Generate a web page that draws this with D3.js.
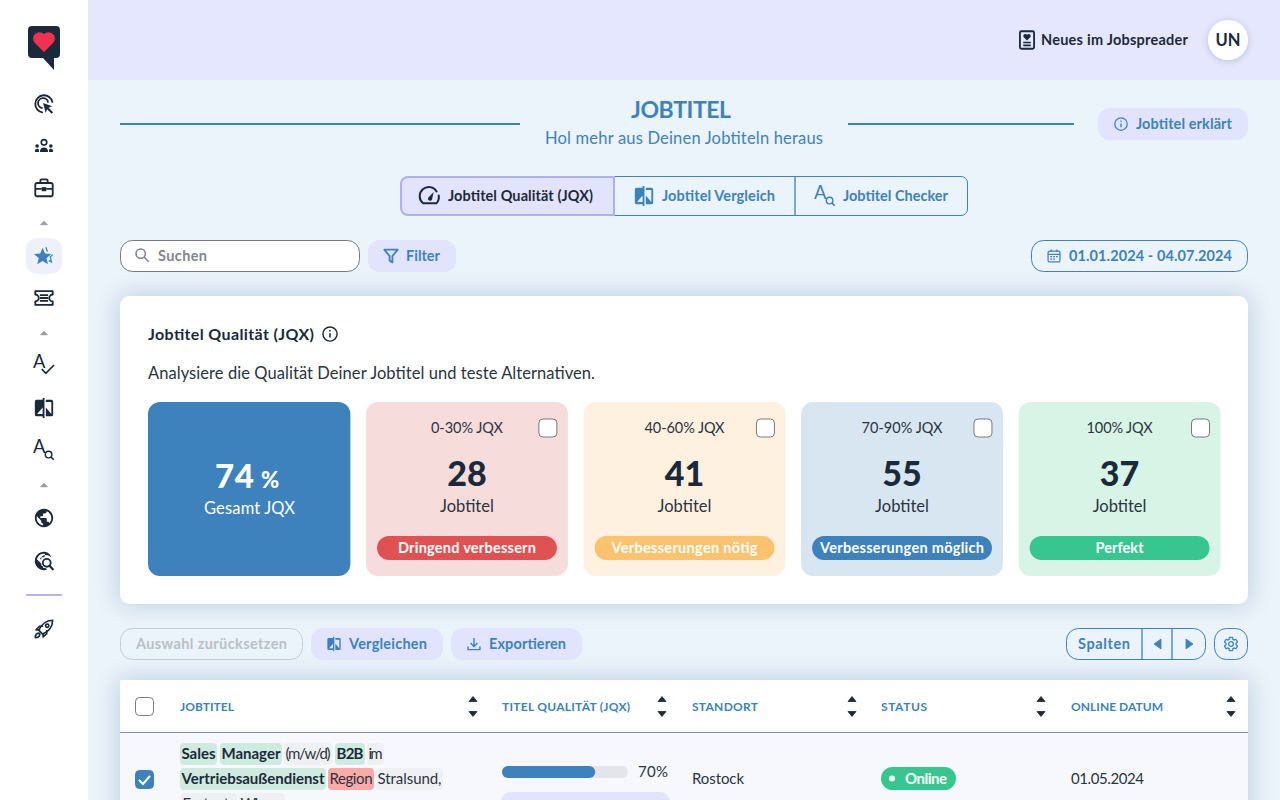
<!DOCTYPE html>
<html lang="de"><head><meta charset="utf-8"><title>Jobtitel</title>
<script src="https://cdn.jsdelivr.net/npm/d3@7"></script>
<style>html,body{margin:0;padding:0;overflow:hidden;background:#ebf3fb}svg{display:block}text{font-family:Lato,"Open Sans",sans-serif}</style>
</head><body><div id="app"></div>
<script>
// ---- data ----
const scoreRanges = ["0-30% JQX","40-60% JQX","70-90% JQX","100% JQX"];
const jobCounts = [28,41,55,37];
const badgeLabels = ["Dringend verbessern","Verbesserungen nötig","Verbesserungen möglich","Perfekt"];
const overallScore = 74;
const tableColumns = ["JOBTITEL","TITEL QUALITÄT (JQX)","STANDORT","STATUS","ONLINE DATUM"];
const titleWords = ["Sales","Manager","(m/w/d)","B2B","im","Vertriebsaußendienst","Region","Stralsund,","Festnetz","Wismar"];
const titleKinds = ["good","good","neutral","good","neutral","good","bad","neutral","neutral","neutral"];
const rowQualityBar = 74, rowQualityLabel = "70%";
const rowLocation = "Rostock", rowStatus = "Online", rowDate = "01.05.2024";
const tabLabels = ["Jobtitel Qualität (JQX)","Jobtitel Vergleich","Jobtitel Checker"];
const dateRange = "01.01.2024 - 04.07.2024";

const W=1280,H=800, BLUE="#3d82bd", DARK="#1b2a3a", LILAC="#e2e4fd", INK="#2b3440";
const svg=d3.select("#app").append("svg").attr("width",W).attr("height",H).attr("viewBox",[0,0,W,H]);
const defs=svg.append("defs");
function shadow(id,dy,blur,op){const f=defs.append("filter").attr("id",id).attr("x","-20%").attr("y","-30%").attr("width","140%").attr("height","160%");
  f.append("feDropShadow").attr("dx",0).attr("dy",dy).attr("stdDeviation",blur).attr("flood-color","#24364d").attr("flood-opacity",op);}
shadow("cardS",0,12,.22); shadow("avaS",1,3,.22);
defs.append("filter").attr("id","tblS").attr("x","-10%").attr("y","-30%").attr("width","120%").attr("height","160%")
  .append("feDropShadow").attr("dx",0).attr("dy",0).attr("stdDeviation",12).attr("flood-color","#24364d").attr("flood-opacity",.22);
defs.append("clipPath").attr("id","pageClip").append("rect").attr("width",W).attr("height",H);

const rect=(p,x0,y0,x1,y1,o={})=>p.append("rect").attr("x",x0).attr("y",y0).attr("width",x1-x0).attr("height",y1-y0)
  .attr("rx",o.r||0).attr("fill",o.fill||"none").attr("stroke",o.stroke||null).attr("stroke-width",o.sw||null).attr("filter",o.filter||null);
// text; when x1 is given the run is fitted to the span x..x1
function T(p,x,y,s,o={}){const t=p.append("text").attr("x",x).attr("y",y).text(s).attr("font-size",o.size||14)
  .attr("font-weight",o.weight||400).attr("fill",o.fill||INK).attr("text-anchor",o.anchor||"start");
  if(o.x1!=null)t.attr("textLength",o.x1-x).attr("lengthAdjust","spacing");
  if(o.fit)t.attr("textLength",o.fit).attr("lengthAdjust","spacing");return t;}

const ICONS={
 compare:'<path fill="currentColor" d="M10.500 3H4a2 2 0 0 0-2 2v14a2 2 0 0 0 2 2h6.500v2h2V1h-2zM10.500 18.500H4.500l6-7zM20 3h-6v2.500h6v13l-6-7V21h6a2 2 0 0 0 2-2V5a2 2 0 0 0-2-2z"/>',
 globe:'<path fill="currentColor" d="M12 2C6.48 2 2 6.48 2 12s4.48 10 10 10 10-4.48 10-10S17.52 2 12 2zm-1 17.93c-3.95-.49-7-3.85-7-7.93 0-.62.08-1.21.21-1.79L9 15v1c0 1.1.9 2 2 2v1.93zm6.9-2.54c-.26-.81-1-1.39-1.9-1.39h-1v-3c0-.55-.45-1-1-1H8v-2h2c.55 0 1-.45 1-1V7h2c1.1 0 2-.9 2-2v-.41c2.93 1.19 5 4.06 5 7.41 0 2.08-.8 3.97-2.1 5.39z"/>',
 globeSearch:'<path fill="currentColor" d="M12 2C6.5 2 2 6.5 2 12s4.500 10 10 10c1.200 0 2.300-.2 3.300-.6l-1.500-1.900c-.6.1-1.200.2-1.800.2h-1v-2c-1.100 0-2-.9-2-2v-1L4.200 10.200C4.100 10.800 4 11.400 4 12c0-4 3-7.400 7-8h2v2c0 1.100-.9 2-2 2H9v2H7.500c1-2.500 3.500-4.500 6.500-4.500 2.500 0 4.500 1 6 2.800C18.700 4.300 15.600 2 12 2z"/><circle cx="15" cy="14" r="4.300" fill="none" stroke="currentColor" stroke-width="2"/><path d="M18 17.200l3.600 3.800" stroke="currentColor" stroke-width="2.400" stroke-linecap="round"/>',
 target:'<path d="M21.400 10.500A9.500 9.500 0 1 0 10.800 21.400" fill="none" stroke="currentColor" stroke-width="2"/><path d="M16.500 10.500A5.500 5.500 0 1 0 10.500 16.500" fill="none" stroke="currentColor" stroke-width="2"/><path fill="currentColor" d="M11 11l10 3.400-4 1.700 5 5-1.600 1.600-5-5-1.600 4z"/>',
 team:'<g fill="currentColor"><circle cx="12" cy="8" r="3" fill="none" stroke="currentColor" stroke-width="1.800"/><path d="M7.500 18.500c0-3.400 2-5 4.500-5s4.500 1.600 4.500 5z"/><circle cx="4.500" cy="12" r="2"/><circle cx="19.500" cy="12" r="2"/><path d="M2 18.500c0-2.200 1-3.400 2.500-3.400s2 .6 2 1.500v1.900zM22 18.500c0-2.200-1-3.400-2.500-3.400s-2 .6-2 1.500v1.900z"/></g>',
 case:'<g fill="none" stroke="currentColor" stroke-width="2"><rect x="2.500" y="6.500" width="19" height="14.500" rx="2"/><path d="M8 6.500V4a1.500 1.500 0 0 1 1.500-1.500h5A1.500 1.500 0 0 1 16 4v2.500M2.500 13H9.500M14.500 13h7"/><rect x="9.500" y="11" width="5" height="4.500" fill="currentColor" stroke="none"/></g>',
 star:'<path fill="currentColor" d="M10.500 3l2.600 6.400 6.900.500-5.300 4.500 1.700 6.700-5.900-3.700-5.900 3.700 1.700-6.700L1 9.900l6.900-.500z"/><path d="M14 2.500l1.800 4.500M21.500 10.500l-2.600 2.500 1.200 5.500-3-1.700" fill="none" stroke="currentColor" stroke-width="1.400"/>',
 ticket:'<g fill="none" stroke="currentColor" stroke-width="2" stroke-linejoin="round"><path d="M2.500 4.500h19v3.700a3.800 3.800 0 0 0 0 7.600v3.700h-19v-3.700a3.800 3.800 0 0 0 0-7.600z"/><path d="M7.500 8.800h9M7.500 12h9M7.500 15.200h9" /></g>',
 aCheck:'<text x="0" y="15" font-size="20" font-family="Lato" font-weight="400" fill="currentColor">A</text><path d="M9.500 16.500l4.500 4.500L23 12" fill="none" stroke="currentColor" stroke-width="1.800"/>',
 aSearch:'<text x="0" y="15" font-size="20" font-family="Lato" font-weight="400" fill="currentColor">A</text><circle cx="17" cy="17" r="3.600" fill="none" stroke="currentColor" stroke-width="1.600"/><path d="M19.600 19.600l3 3" stroke="currentColor" stroke-width="1.800"/>',
 rocket:'<g fill="none" stroke="currentColor" stroke-width="1.800" stroke-linejoin="round"><path d="M6.500 13.500C9 7 14 2.800 21.500 2.500 21.200 10 17 15 10.500 17.500z"/><circle cx="15.500" cy="8.500" r="1.800"/><path d="M7 13H3.300l3.700-4h4M11 17v3.700l4-3.700v-4"/><path d="M6.500 16.500c-2.500.3-4 2-4 5 3 0 4.700-1.500 5-4z"/></g>',
 gauge:'<g fill="none" stroke="currentColor" stroke-width="2.200" stroke-linecap="round"><path d="M4.500 20a10 10 0 1 1 14.800-13M21.500 11.500a10 10 0 0 1-2.500 8.500H4.500"/></g><path d="M10 13.800l6-6.300-1.800 8.400a2.200 2.200 0 1 1-4.200-2.100z" fill="currentColor"/>',
 news:'<rect x="3.500" y="1.500" width="17" height="21" rx="1.800" fill="none" stroke="currentColor" stroke-width="2.200"/><path fill="currentColor" d="M12 12.500L7.800 8.300a2.500 2.500 0 0 1 4.200-2.600 2.500 2.500 0 0 1 4.200 2.600z"/><path d="M7.500 15h9M7.500 18.500h9" stroke="currentColor" stroke-width="2"/>',
 info:'<circle cx="12" cy="12" r="10" fill="none" stroke="currentColor" stroke-width="2"/><circle cx="12" cy="7.500" r="1.300" fill="currentColor"/><path d="M12 11v6" stroke="currentColor" stroke-width="2.200"/>',
 search:'<circle cx="10" cy="10" r="7" fill="none" stroke="currentColor" stroke-width="2.200"/><path d="M15 15l7 7" stroke="currentColor" stroke-width="2.200"/>',
 funnel:'<path d="M2.500 3h19l-7.500 9v9l-4-2.500V12z" fill="none" stroke="currentColor" stroke-width="2.600" stroke-linejoin="round"/>',
 calendar:'<rect x="2.500" y="4" width="19" height="17.500" rx="2.500" fill="none" stroke="currentColor" stroke-width="2"/><path d="M2.500 9.500h19M7.500 1.500v4M16.500 1.500v4" stroke="currentColor" stroke-width="2"/><path d="M6 13h3M10.500 13h3M15 13h3M6 17h3M10.500 17h3" stroke="currentColor" stroke-width="1.800"/>',
 download:'<path d="M12 2.500v13M6.500 10.500l5.500 5.500 5.500-5.500M2.500 16v5h19v-5" fill="none" stroke="currentColor" stroke-width="2.300"/>',
 gear:'<path fill="none" stroke="currentColor" stroke-width="1.900" d="M19.430 12.980c.04-.32.07-.64.07-.98s-.03-.66-.07-.98l2.110-1.650c.19-.15.24-.42.12-.64l-2-3.460c-.12-.22-.39-.3-.61-.22l-2.490 1c-.52-.4-1.080-.73-1.690-.98l-.38-2.650C14.460 2.180 14.250 2 14 2h-4c-.25 0-.46.18-.49.42l-.38 2.650c-.61.25-1.170.59-1.690.98l-2.490-1c-.23-.09-.49 0-.61.22l-2 3.460c-.13.22-.07.49.12.64l2.110 1.650c-.04.32-.07.65-.07.98s.03.66.07.98l-2.110 1.650c-.19.15-.24.42-.12.64l2 3.460c.12.22.39.3.61.22l2.490-1c.52.4 1.080.73 1.690.98l.38 2.650c.03.24.24.42.49.42h4c.25 0 .46-.18.49-.42l.38-2.650c.61-.25 1.170-.59 1.690-.98l2.490 1c.23.09.49 0 .61-.22l2-3.460c.12-.22.07-.49-.12-.64l-2.110-1.650z"/><circle cx="12" cy="12" r="3.500" fill="none" stroke="currentColor" stroke-width="1.900"/>'
};
const icon=(p,name,cx,cy,size,color)=>p.append("g").attr("transform",`translate(${cx-size/2},${cy-size/2}) scale(${size/24})`)
  .style("color",color).html(ICONS[name]);
const tri=(p,cx,cy,w,h,dir,fill)=>{const d=d3.path();
  if(dir==="up"){d.moveTo(cx-w/2,cy+h/2);d.lineTo(cx+w/2,cy+h/2);d.lineTo(cx,cy-h/2);}
  if(dir==="down"){d.moveTo(cx-w/2,cy-h/2);d.lineTo(cx+w/2,cy-h/2);d.lineTo(cx,cy+h/2);}
  if(dir==="left"){d.moveTo(cx+h/2,cy-w/2);d.lineTo(cx+h/2,cy+w/2);d.lineTo(cx-h/2,cy);}
  if(dir==="right"){d.moveTo(cx-h/2,cy-w/2);d.lineTo(cx-h/2,cy+w/2);d.lineTo(cx+h/2,cy);}
  d.closePath();return p.append("path").attr("d",d.toString()).attr("fill",fill).attr("stroke",fill).attr("stroke-width",.8).attr("stroke-linejoin","round");};
const checkbox=(p,x,y,on)=>{rect(p,x,y,x+18,y+18,{r:4,fill:on?BLUE:"#fff",stroke:on?BLUE:"#777a80",sw:1});
  if(on)p.append("path").attr("d",`M${x+3.5} ${y+9.5}l4 4 7-8`).attr("fill","none").attr("stroke","#fff").attr("stroke-width",2);};

// ---- page background ----
rect(svg,0,0,W,H,{fill:"#ebf3fb"});
rect(svg,88,0,W,80,{fill:"#e5e7fe"});

// ---- main card ----
rect(svg,120,296,1248,604,{r:10,fill:"#fff",filter:"url(#cardS)"});
// ---- table (clipped by the viewport) ----
const tbl=svg.append("g").attr("clip-path","url(#pageClip)");
rect(tbl,120,680,1248,860,{fill:"#fff",filter:"url(#tblS)"});
rect(tbl,120,733,1248,860,{fill:"#f6f8fe"});
tbl.append("line").attr("x1",120).attr("x2",1248).attr("y1",732.5).attr("y2",732.5).attr("stroke","#8b8d98").attr("stroke-width",1);

// ---- sidebar ----
rect(svg,0,0,88,H,{fill:"#fff"});
const side=svg.append("g");
side.append("path").attr("d","M32 26h24a4 4 0 0 1 4 4v24a4 4 0 0 1-4 4h-2v12l-11-12H32a4 4 0 0 1-4-4V30a4 4 0 0 1 4-4z").attr("fill",DARK);
side.append("path").attr("d","M44 52L35 43a6.200 6.200 0 0 1 9-9 6.200 6.200 0 0 1 9 9z").attr("fill","#f0324f");
rect(side,26,238,62,274,{r:11,fill:"#eef0fc"});
[["target",104],["team",146],["case",188],["ticket",298],["aCheck",365],["compare",408],["aSearch",450],["globe",518],["globeSearch",561],["rocket",629]]
  .forEach(([n,y])=>icon(side,n,44,y,22,DARK));
icon(side,"star",44,256,22,BLUE);
[223,333,485].forEach(y=>tri(side,44,y,7,3.5,"up","#9b9da3"));
side.append("line").attr("x1",26).attr("x2",62).attr("y1",595).attr("y2",595).attr("stroke","#b5b4ee").attr("stroke-width",2);

// ---- top bar ----
icon(svg,"news",1027,40,20,DARK);
T(svg,1041,45,"Neues im Jobspreader",{size:14.5,weight:700,fill:DARK,x1:1188});
svg.append("circle").attr("cx",1228).attr("cy",40).attr("r",20).attr("fill","#fff").attr("filter","url(#avaS)");
T(svg,1228,46,"UN",{size:16.5,weight:700,fill:DARK,anchor:"middle"});

// ---- heading ----
T(svg,631,118,"JOBTITEL",{size:23,weight:700,fill:BLUE,x1:731});
T(svg,545,144,"Hol mehr aus Deinen Jobtiteln heraus",{size:16.5,fill:BLUE,x1:823});
[[120,520],[848,1074]].forEach(([a,b])=>svg.append("line").attr("x1",a).attr("x2",b).attr("y1",124).attr("y2",124).attr("stroke",BLUE).attr("stroke-width",2));
rect(svg,1098,108,1248,140,{r:12,fill:LILAC});
icon(svg,"info",1121,124,15,BLUE);
T(svg,1136,129,"Jobtitel erklärt",{size:14.5,weight:700,fill:BLUE,x1:1232});

// ---- tabs ----
const tabs=svg.append("g");
tabs.append("path").attr("d","M790 176.500H961a6.500 6.500 0 0 1 6.500 6.500V209a6.500 6.500 0 0 1-6.500 6.500H612V176.500z").attr("fill","none").attr("stroke",BLUE).attr("stroke-width",1);
tabs.append("line").attr("x1",795).attr("x2",795).attr("y1",177).attr("y2",215).attr("stroke",BLUE).attr("stroke-width",1.3);
tabs.append("path").attr("d","M614 177H408a7 7 0 0 0-7 7V208a7 7 0 0 0 7 7H614z").attr("fill",LILAC).attr("stroke","#aeb0f2").attr("stroke-width",2);
icon(tabs,"gauge",430,196,22,DARK);
T(tabs,448,201,tabLabels[0],{size:14.5,weight:700,fill:DARK,x1:593});
icon(tabs,"compare",644,196,22,BLUE);
T(tabs,662,201,tabLabels[1],{size:14.5,weight:700,fill:BLUE,x1:775});
icon(tabs,"aSearch",825,196,22,BLUE);
T(tabs,843,201,tabLabels[2],{size:14.5,weight:700,fill:BLUE,x1:948});

// ---- search row ----
rect(svg,120.5,240.5,359.5,271.5,{r:12,fill:"#fff",stroke:"#777a80",sw:1});
icon(svg,"search",142,255,16,"#7d8087");
T(svg,158,261,"Suchen",{size:14.5,weight:700,fill:"#83868c",x1:207});
rect(svg,368,240,456,272,{r:12,fill:LILAC});
icon(svg,"funnel",391,256,17,BLUE);
T(svg,406,261,"Filter",{size:14.5,weight:700,fill:BLUE,x1:440});
rect(svg,1031.5,240.5,1247.5,271.5,{r:12,fill:"#ebf3fb",stroke:BLUE,sw:1});
icon(svg,"calendar",1054,256,15,BLUE);
T(svg,1069,261,dateRange,{size:14.5,weight:700,fill:BLUE,x1:1232});

// ---- card heading ----
T(svg,148,340,"Jobtitel Qualität (JQX)",{size:16,weight:700,fill:DARK,x1:314});
icon(svg,"info",330,334,17,DARK);
T(svg,148,379,"Analysiere die Qualität Deiner Jobtitel und teste Alternativen.",{size:16.5,fill:INK,x1:595});

// ---- KPI tiles ----
const tileIds=["total",...scoreRanges];
const xTile=d3.scaleBand().domain(tileIds).range([148.5,1220.5]).paddingInner(.072);
const tileTop=402,tileBottom=576;
const fillOf=d3.scaleOrdinal(scoreRanges,["#f7dcdc","#fef1e0","#d8e6f2","#d7f4e7"]);
const badgeOf=d3.scaleOrdinal(scoreRanges,["#e05252","#fdc26d","#3d82bd","#38c690"]);
const tx=xTile("total");
rect(svg,tx-.5,tileTop,tx+xTile.bandwidth(),tileBottom,{r:12,fill:BLUE});
T(svg,215,487.5,overallScore,{size:33,weight:900,fill:"#fff",x1:254});
T(svg,261,487.5,"%",{size:22,weight:900,fill:"#fff"});
T(svg,204,514,"Gesamt JQX",{size:16.5,fill:"#fff",x1:295});
const tiles=svg.selectAll("g.tile").data(scoreRanges).join("g").attr("class","tile")
  .attr("transform",d=>`translate(${xTile(d)},0)`);
tiles.each(function(d,i){const g=d3.select(this),bw=xTile.bandwidth(),c=bw/2;
  rect(g,0,tileTop,bw,tileBottom,{r:12,fill:fillOf(d)});
  const tw=[72,80,81,66][i];
  T(g,c-tw/2,433,d,{size:14.5,fill:INK,fit:tw});
  checkbox(g,bw-29,419,false);
  T(g,c,485.5,jobCounts[i],{size:34,weight:900,fill:DARK,anchor:"middle"});
  T(g,c,512,"Jobtitel",{size:16.5,fill:INK,anchor:"middle"});
  rect(g,11,536,bw-11,560,{r:12,fill:badgeOf(d)});
  const bwText=[138,146,164,48][i];
  T(g,c,553,badgeLabels[i],{size:14.5,weight:700,fill:"#fff",anchor:"middle",fit:bwText});
});

// ---- toolbar ----
rect(svg,120.5,628.5,302.5,659.5,{r:12,stroke:"#c9ccd2",sw:1});
T(svg,136,649,"Auswahl zurücksetzen",{size:14.5,weight:700,fill:"#bcbfc6",x1:287});
rect(svg,311,628,443,660,{r:12,fill:LILAC});
icon(svg,"compare",334,644,16,BLUE);
T(svg,349,649,"Vergleichen",{size:14.5,weight:700,fill:BLUE,x1:427});
rect(svg,451,628,582,660,{r:12,fill:LILAC});
icon(svg,"download",474,644,15,BLUE);
T(svg,489,649,"Exportieren",{size:14.5,weight:700,fill:BLUE,x1:566});
rect(svg,1066.5,628.5,1205.5,659.5,{r:12,stroke:BLUE,sw:1});
[1142,1172].forEach(x=>svg.append("line").attr("x1",x).attr("x2",x).attr("y1",628).attr("y2",660).attr("stroke",BLUE).attr("stroke-width",1.3));
T(svg,1078,649,"Spalten",{size:14.5,weight:700,fill:BLUE,x1:1130});
tri(svg,1157.5,644,10,7,"left",BLUE);tri(svg,1189.5,644,10,7,"right",BLUE);
rect(svg,1214.5,628.5,1247.5,659.5,{r:12,stroke:BLUE,sw:1});
icon(svg,"gear",1231,644,16,BLUE);

// ---- table header ----
const colX=d3.scaleOrdinal(tableColumns,[180,502,692,881,1071]);
const colSort=d3.scaleOrdinal(tableColumns,[473,662,852,1041,1231]);
const colW=d3.scaleOrdinal(tableColumns,[54,128,66,46,92]);
checkbox(tbl,135.5,697.5,false);
tableColumns.forEach(c=>{
  T(tbl,colX(c),711,c,{size:12,weight:700,fill:BLUE,fit:colW(c)});
  tri(tbl,colSort(c),699,8,5,"up",DARK);tri(tbl,colSort(c),714,8,5,"down",DARK);
});

// ---- table row ----
checkbox(tbl,135.5,770.5,true);
const tokenFill=d3.scaleOrdinal(["good","bad","neutral"],["#cfeadf","#fba9a9","#eff0f3"]);
const tokenWeight=d3.scaleOrdinal(["good","bad","neutral"],[700,400,400]);
const tokenSpan=[[180,217],[220,282],[284,332],[335,365],[367,384],[180,326],[328,374],[376,443],[181,237],[239,285]];
const tokenTop=[743,743,743,743,743,768,768,768,793,793];
titleWords.forEach((w,i)=>{const k=titleKinds[i],[a,b]=tokenSpan[i],y=tokenTop[i];
  rect(tbl,a,y,b,y+22,{r:4,fill:tokenFill(k)});
  T(tbl,a+1.5,y+16,w,{size:15,weight:tokenWeight(k),fill:k==="good"?DARK:INK,x1:b-1.5});
});
const xQ=d3.scaleLinear().domain([0,100]).range([502,628]);
rect(tbl,xQ(0),766,xQ(100),778,{r:6,fill:"#e4e5ea"});
rect(tbl,xQ(0),766,xQ(rowQualityBar),778,{r:6,fill:BLUE});
T(tbl,638,777,rowQualityLabel,{size:15,fill:INK,x1:668});
rect(tbl,501,792,670,840,{r:10,fill:LILAC});
T(tbl,692,784,rowLocation,{size:15,fill:INK,x1:744});
rect(tbl,881,767,956,790,{r:11.5,fill:"#38c690"});
tbl.append("circle").attr("cx",892).attr("cy",778.5).attr("r",3).attr("fill","#fff");
T(tbl,905,784,rowStatus,{size:15,weight:700,fill:"#fff",x1:947});
T(tbl,1071,784,rowDate,{size:15,fill:INK,x1:1144});
</script></body></html>
